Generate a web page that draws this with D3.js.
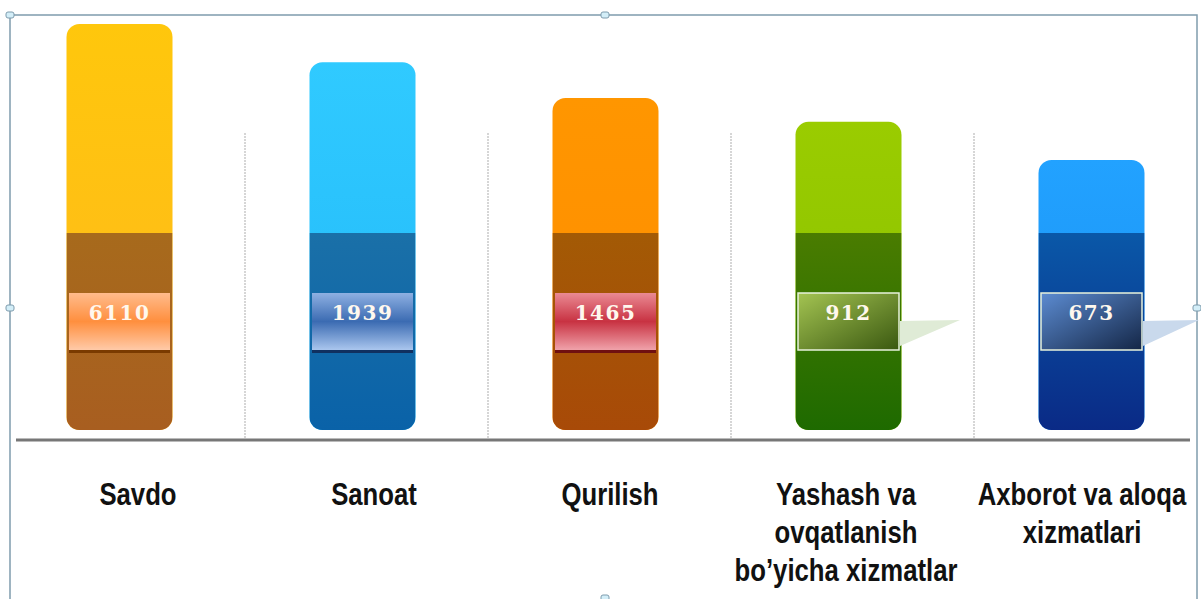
<!DOCTYPE html>
<html>
<head>
<meta charset="utf-8">
<script src="https://cdn.jsdelivr.net/npm/d3@7"></script>
<style>
  html, body { margin: 0; padding: 0; background: #fff; }
  #chart { width: 1201px; height: 599px; }
  .cat-label { font-family: "Liberation Sans", Arial, sans-serif; font-weight: bold; font-size: 31px; fill: #111; }
  .val-label { font-family: "DejaVu Serif", "Liberation Serif", serif; font-weight: bold; font-size: 20px; letter-spacing: 1.5px; fill: #fff8ee; }
</style>
</head>
<body>
<div id="chart"></div>
<script>
// data
const categories = ["Savdo", "Sanoat", "Qurilish", "Yashash va ovqatlanish bo’yicha xizmatlar", "Axborot va aloqa xizmatlari"];
const labelLines = [["Savdo"], ["Sanoat"], ["Qurilish"], ["Yashash va", "ovqatlanish", "bo’yicha xizmatlar"], ["Axborot va aloqa", "xizmatlari"]];
const values = [6110, 1939, 1465, 912, 673];
// drawn bar length, relative (tallest = 100)
const barLevel = [100, 90.6, 81.8, 75.9, 66.5];

// colours: [top light, top lower, band top, band bottom]
const barColors = [
  ["#ffc70c", "#ffb91c", "#a76a1c", "#a85e20"],
  ["#30caff", "#22b9f9", "#1a70a8", "#0a62a8"],
  ["#ff9600", "#ff8c00", "#a35a05", "#a84a08"],
  ["#9acc00", "#88c000", "#4a7c00", "#1e6a00"],
  ["#22a2ff", "#1a90f2", "#0a58a8", "#0a2a86"]
];
const boxColors = [
  ["#ffbb8c", "#ff8f3e", "#ffcaa8"],
  ["#8eb0e2", "#3b6bb2", "#aac6ee"],
  ["#ea8a93", "#c83242", "#f0a2aa"],
  ["#a4c452", "#3a5810"],
  ["#5c8cd2", "#142646"]
];
const shadowColors = ["#7a3a00", "#103060", "#701010"];
const pointerColors = [null, null, null, "#dfebd6", "#c9d9ec"];

////////////////////////////////////////////////////////////////////
const width = 1201, height = 599;
const svg = d3.select("#chart").append("svg").attr("width", width).attr("height", height);
const defs = svg.append("defs");

const baseY = 430;   // bar bottom
const axisY = 440;   // grey baseline
const bandTop = 233; // dark lower band start
const boxTop = 293, boxBottom = 350;
const barW = 106, boxW = 101, radius = 13;

const xScale = d3.scaleBand().domain(categories).range([-2, 1213]);
const yScale = d3.scaleLinear().domain([0, 100]).range([baseY, 24]);
const labelX = d3.scalePoint().domain(categories).range([138, 1082]);

const cx = (d) => xScale(d) + xScale.bandwidth() / 2;

const data = categories.map((c, i) => ({
  cat: c, lines: labelLines[i], value: values[i], level: barLevel[i], i
}));

// gradients
data.forEach((d) => {
  const c = barColors[d.i];
  const gTop = defs.append("linearGradient").attr("id", "top" + d.i)
    .attr("x1", 0).attr("y1", 0).attr("x2", 0).attr("y2", 1);
  gTop.append("stop").attr("offset", "0%").attr("stop-color", c[0]);
  gTop.append("stop").attr("offset", "100%").attr("stop-color", c[1]);
  const gBand = defs.append("linearGradient").attr("id", "band" + d.i)
    .attr("x1", 0).attr("y1", 0).attr("x2", 0).attr("y2", 1);
  gBand.append("stop").attr("offset", "0%").attr("stop-color", c[2]);
  gBand.append("stop").attr("offset", "100%").attr("stop-color", c[3]);

  const b = boxColors[d.i];
  if (b.length === 3) {
    const g = defs.append("linearGradient").attr("id", "box" + d.i)
      .attr("x1", 0).attr("y1", 0).attr("x2", 0).attr("y2", 1);
    g.append("stop").attr("offset", "0%").attr("stop-color", b[0]);
    g.append("stop").attr("offset", "50%").attr("stop-color", b[1]);
    g.append("stop").attr("offset", "100%").attr("stop-color", b[2]);
  } else {
    const g = defs.append("linearGradient").attr("id", "box" + d.i)
      .attr("x1", 0).attr("y1", 0).attr("x2", 1).attr("y2", 1);
    g.append("stop").attr("offset", "0%").attr("stop-color", b[0]);
    g.append("stop").attr("offset", "100%").attr("stop-color", b[1]);
  }

  defs.append("clipPath").attr("id", "clip" + d.i)
    .append("rect")
    .attr("x", cx(d.cat) - barW / 2)
    .attr("y", yScale(d.level))
    .attr("width", barW)
    .attr("height", baseY - yScale(d.level))
    .attr("rx", radius);
});

// frame
svg.append("rect")
  .attr("x", 10).attr("y", 15)
  .attr("width", 1187).attr("height", 600)
  .attr("fill", "none")
  .attr("stroke", "#7f9cad")
  .attr("stroke-width", 1.5);

const handles = [[10, 15], [605, 15], [10, 308], [1197, 308], [605, 598]];
svg.selectAll(".handle").data(handles).enter().append("rect")
  .attr("class", "handle")
  .attr("x", (d) => d[0] - 4).attr("y", (d) => d[1] - 3)
  .attr("width", 8).attr("height", 6).attr("rx", 2)
  .attr("fill", "#d3eef8").attr("stroke", "#7f9cad").attr("stroke-width", 1);

// dotted separators
svg.selectAll(".sep").data(categories.slice(1)).enter().append("line")
  .attr("class", "sep")
  .attr("x1", (d) => xScale(d) + 4).attr("x2", (d) => xScale(d) + 4)
  .attr("y1", 133).attr("y2", axisY)
  .attr("stroke", "#c9c9c9")
  .attr("stroke-width", 1.5)
  .attr("stroke-dasharray", "2,1");

// bars
const bars = svg.selectAll(".bar").data(data).enter().append("g").attr("class", "bar");

bars.append("rect")
  .attr("x", (d) => cx(d.cat) - barW / 2)
  .attr("y", (d) => yScale(d.level))
  .attr("width", barW)
  .attr("height", (d) => baseY - yScale(d.level))
  .attr("rx", radius)
  .attr("fill", (d) => `url(#top${d.i})`);

bars.append("rect")
  .attr("clip-path", (d) => `url(#clip${d.i})`)
  .attr("x", (d) => cx(d.cat) - barW / 2)
  .attr("y", bandTop)
  .attr("width", barW)
  .attr("height", baseY - bandTop)
  .attr("fill", (d) => `url(#band${d.i})`);

// pointers (last two)
bars.filter((d) => pointerColors[d.i]).append("path")
  .attr("d", (d) => {
    const x0 = cx(d.cat) + boxW / 2 + 1;
    const len = d.i === 3 ? 60 : 56;
    return `M${x0},${boxTop + 28}L${x0 + len},${boxTop + 27}L${x0},${boxBottom - 4}Z`;
  })
  .attr("fill", (d) => pointerColors[d.i]);

// value boxes
bars.filter((d) => d.i < 3).append("rect")
  .attr("x", (d) => cx(d.cat) - boxW / 2)
  .attr("y", boxBottom)
  .attr("width", boxW)
  .attr("height", 3)
  .attr("fill", (d) => shadowColors[d.i]);

bars.append("rect")
  .attr("x", (d) => cx(d.cat) - boxW / 2)
  .attr("y", boxTop)
  .attr("width", boxW)
  .attr("height", boxBottom - boxTop)
  .attr("fill", (d) => `url(#box${d.i})`)
  .attr("stroke", (d) => (d.i >= 3 ? "#e8f2dc" : "none"))
  .attr("stroke-width", 1.5);

bars.append("text")
  .attr("class", "val-label")
  .attr("x", (d) => cx(d.cat))
  .attr("y", boxTop + 27)
  .attr("text-anchor", "middle")
  .text((d) => d.value);

// baseline
svg.append("line")
  .attr("x1", 16).attr("x2", 1190)
  .attr("y1", axisY).attr("y2", axisY)
  .attr("stroke", "#777")
  .attr("stroke-width", 3);

// category labels (condensed look)
const labels = svg.selectAll(".cat-label").data(data).enter().append("text")
  .attr("class", "cat-label")
  .attr("text-anchor", "middle")
  .attr("transform", (d) => `translate(${labelX(d.cat)},505) scale(0.83,1)`);

labels.selectAll("tspan").data((d) => d.lines).enter()
  .append("tspan")
  .attr("x", 0)
  .attr("dy", (t, j) => (j === 0 ? 0 : 38))
  .text((t) => t);
</script>
</body>
</html>
